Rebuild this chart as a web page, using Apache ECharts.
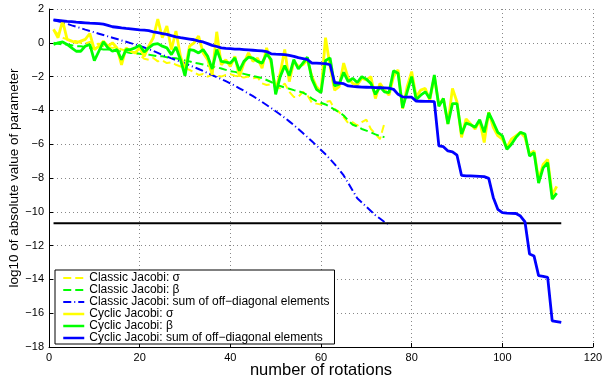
<!DOCTYPE html>
<html>
<head>
<meta charset="utf-8">
<script src="https://cdn.jsdelivr.net/npm/echarts@6/dist/echarts.min.js"></script>
<style>
  html, body { margin: 0; padding: 0; background: #fff; }
  #chart { width: 602px; height: 378px; }
</style>
</head>
<body>
<div id="chart"></div>
<script>
// log10 values per rotation (rotation 1 first)
const classicSigma = [
  0.75, 0.5, 0.3, 0.2, 0.1, 0.1, 0.0, -0.05, 0.05, -0.1,
  -0.05, -0.2, -0.25, -0.3, -0.25, -0.4, -0.45, -0.5, -0.6, -0.7,
  -0.95, -1.0, -0.9, -1.1, -1.05, -1.2, -1.15, -1.3, -1.4, -1.5,
  -1.6, -1.75, -1.9, -1.85, -2.0, -1.9, -1.95, -2.0, -1.9, -1.85,
  -1.95, -2.0, -2.05, -2.0, -2.1, -2.05, -2.4, -2.5, -2.45, -2.6,
  -2.7, -2.4, -2.9, -3.2, -3.2, -2.9, -3.1, -3.55, -3.6, -3.65,
  -3.5, -3.45, -3.9, -4.1, -4.4, -4.75, -4.7, -4.9, -4.7, -4.55,
  -5.1, -5.4, -5.7, -4.75
]
const classicBeta = [
  0.0, -0.05, -0.1, -0.1, -0.15, -0.2, -0.2, -0.25, -0.3, -0.3,
  -0.35, -0.4, -0.4, -0.45, -0.5, -0.5, -0.55, -0.6, -0.6, -0.65,
  -0.7, -0.7, -0.75, -0.8, -0.8, -0.85, -0.9, -0.92, -0.98, -1.05,
  -1.1, -1.18, -1.22, -1.28, -1.35, -1.4, -1.45, -1.52, -1.6, -1.68,
  -1.72, -1.78, -1.84, -1.9, -1.96, -2.02, -2.08, -2.2, -2.32, -2.45,
  -2.56, -2.65, -2.72, -2.8, -2.86, -2.95, -3.1, -3.3, -3.45, -3.55,
  -3.65, -3.8, -3.95, -4.1, -4.3, -4.6, -4.85, -4.95, -5.1, -5.2,
  -5.3, -5.42, -5.52, -5.58
]
const classicOff = [
  1.35, 1.28, 1.2, 1.12, 1.03, 0.95, 0.87, 0.78, 0.7, 0.62,
  0.54, 0.46, 0.38, 0.3, 0.22, 0.14, 0.06, -0.02, -0.1, -0.18,
  -0.28, -0.38, -0.48, -0.6, -0.72, -0.82, -0.92, -1.02, -1.12, -1.22,
  -1.33, -1.44, -1.55, -1.67, -1.79, -1.91, -2.03, -2.15, -2.27, -2.4,
  -2.54, -2.69, -2.84, -3.0, -3.16, -3.33, -3.5, -3.68, -3.86, -4.05,
  -4.24, -4.44, -4.65, -4.87, -5.1, -5.34, -5.58, -5.83, -6.08, -6.34,
  -6.6, -6.88, -7.18, -7.5, -7.85, -8.3, -8.75, -9.2, -9.45, -9.7,
  -9.95, -10.2, -10.4, -10.6, -10.75
]
const cyclicSigma = [
  0.8, 0.3, 1.3, 0.2, 0.1, 0.0, 0.1, 0.2, 0.55, -0.4,
  -0.2, 0.1, -0.2, 0.0, -0.3, -1.3, -0.3, -0.5, -0.6, -0.3,
  -0.8, -0.2, 0.3, 1.4, 0.3, 1.0, -0.4, 0.7, -0.8, -1.6,
  -0.2, 0.0, 0.4, -0.6, -1.0, -1.9, 0.65, -1.3, -1.0, -1.4,
  -0.8, -2.0, -1.2, -0.6, -1.1, -0.9, -1.5, -0.3, -1.2, -2.8,
  -1.8, -0.4, -2.3, -1.1, -1.4, -1.3, -1.0, -2.0, -2.6, -2.9,
  0.3, -1.4, -2.8, -2.6, -1.2, -2.1, -2.4, -2.5, -2.1, -2.2,
  -2.0, -3.3, -2.4, -2.8, -3.1, -2.0, -1.6, -3.9, -2.6, -1.7,
  -3.2, -2.8, -2.7, -3.4, -2.0, -3.7, -3.3, -4.8, -2.7, -3.5,
  -5.6, -4.5, -4.8, -5.1, -4.6, -5.9, -4.1, -5.0, -5.5, -5.7,
  -6.2, -5.7, -5.5, -5.3, -5.6, -6.6, -6.4, -8.1, -7.2, -6.9,
  -9.0, -8.5
]
const cyclicBeta = [
  -0.1, 0.0, 0.05, -0.1, -0.3, -0.5, -0.5, -0.2, -0.1, -1.05,
  -0.5, 0.05, -0.3, -0.5, -0.4, -1.0, -0.4, -0.4, -0.3, -0.15,
  -0.55, -0.3, -0.1, -0.05, -0.2, -0.3, -0.7, -0.25, -1.0, -1.95,
  -0.4, -0.45, -0.6, -0.4, -0.8, -1.55, -0.4, -1.1, -1.15, -1.2,
  -0.9, -1.65, -1.1, -0.85, -0.9, -1.1, -1.2, -0.65, -1.0, -3.05,
  -2.0, -1.35, -1.95, -1.0, -1.55, -1.2, -0.85, -2.15, -2.75, -2.95,
  -1.05, -0.9, -2.55, -2.45, -1.75, -2.3, -2.1, -2.35, -2.0, -2.15,
  -2.4, -3.05, -2.6, -2.9, -2.95, -1.65, -1.8, -3.85, -2.9, -2.0,
  -3.35, -3.1, -2.9, -3.3, -1.9, -3.75, -3.3, -4.8, -3.6, -3.6,
  -5.4, -4.75, -4.85, -5.0, -4.55, -5.3, -4.15, -4.7, -5.3, -5.5,
  -6.3, -6.0, -5.6, -5.3, -5.4, -6.7, -6.5, -8.3, -7.4, -7.1,
  -9.25, -8.9
]
const cyclicOff = [
  1.35, 1.33, 1.3, 1.27, 1.25, 1.22, 1.2, 1.18, 1.16, 1.15,
  1.13, 1.1, 1.03, 0.95, 0.92, 0.88, 0.85, 0.83, 0.8, 0.77,
  0.75, 0.72, 0.65, 0.6, 0.55, 0.5, 0.42, 0.35, 0.3, 0.26,
  0.22, 0.18, 0.1, 0.05, -0.05, -0.15, -0.22, -0.3, -0.33, -0.35,
  -0.37, -0.38, -0.4, -0.42, -0.44, -0.46, -0.48, -0.52, -0.65, -0.67,
  -0.68, -0.7, -0.75, -0.8, -0.88, -0.93, -1.0, -1.2, -1.2, -1.22,
  -1.23, -1.3, -2.35, -2.38, -2.42, -2.55, -2.58, -2.6, -2.62, -2.63,
  -2.64, -2.65, -2.66, -2.67, -2.68, -2.75, -3.05, -3.2, -3.21, -3.22,
  -3.45, -3.46, -3.47, -3.47, -3.48, -6.1, -6.15, -6.4, -6.45, -6.65,
  -7.85, -7.87, -7.88, -7.89, -7.9, -7.92, -8.02, -9.15, -9.85, -10.05,
  -10.08, -10.09, -10.1, -10.25, -10.6, -12.5, -12.62, -13.78, -13.82, -13.88,
  -16.45, -16.5, -16.55
]
// threshold line (rotations 1 to 113)
const thresholdX = [1, 113]
const thresholdY = -10.68

const toPairs = arr => arr.map((v, i) => [i + 1, v])
const minus = v => (v < 0 ? '\u2212' + (-v) : String(v))

const chart = echarts.init(document.getElementById('chart'), null, { renderer: 'canvas' })

const font = 'Liberation Sans, Arial, Helvetica, sans-serif'
const dashed = [8, 4]
const dashDot = [8, 3, 1, 3]

chart.setOption({
  backgroundColor: '#fff',
  animation: false,
  textStyle: { fontFamily: font },
  grid: {
    left: 49,
    right: 9,
    top: 9,
    bottom: 31,
    containLabel: false,
    outerBoundsMode: 'none'
  },
  legend: {
    orient: 'vertical',
    left: 55,
    top: 270,
    itemWidth: 21,
    itemHeight: 12,
    itemGap: 0,
    padding: [2, 5, 0, 7],
    backgroundColor: '#fff',
    borderColor: '#000',
    borderWidth: 1,
    borderRadius: 0,
    itemStyle: { opacity: 0 },
    textStyle: { color: '#000', fontSize: 12, lineHeight: 12, fontFamily: font },
    data: [
      { name: 'Classic Jacobi: σ', lineStyle: { type: dashed, width: 2 } },
      { name: 'Classic Jacobi: β', lineStyle: { type: dashed, width: 2 } },
      { name: 'Classic Jacobi: sum of off\u2212diagonal elements', lineStyle: { type: dashDot, width: 2 } },
      { name: 'Cyclic Jacobi: σ', lineStyle: { type: 'solid', width: 2.5 } },
      { name: 'Cyclic Jacobi: β', lineStyle: { type: 'solid', width: 2.5 } },
      { name: 'Cyclic Jacobi: sum of off\u2212diagonal elements', lineStyle: { type: 'solid', width: 2.5 } }
    ]
  },
  xAxis: {
    type: 'value',
    min: 0,
    max: 120,
    interval: 20,
    name: 'number of rotations',
    nameLocation: 'middle',
    nameGap: 15,
    nameMoveOverlap: false,
    nameTextStyle: { color: '#000', fontSize: 16.5, fontFamily: font },
    axisLine: { onZero: false, lineStyle: { color: '#000', width: 1 } },
    axisTick: { inside: true, length: 4, lineStyle: { color: '#000' } },
    axisLabel: { color: '#000', fontSize: 11, margin: 5 },
    splitLine: { show: true, lineStyle: { color: '#888', type: [1, 3], width: 1 } }
  },
  yAxis: {
    type: 'value',
    min: -18,
    max: 2,
    interval: 2,
    name: 'log10 of absolute value of parameter',
    nameLocation: 'middle',
    nameGap: 28,
    nameMoveOverlap: false,
    nameTextStyle: { color: '#000', fontSize: 13.5, fontFamily: font },
    axisLine: { show: true, onZero: false, lineStyle: { color: '#000', width: 1 } },
    axisTick: { show: true, inside: true, length: 4, lineStyle: { color: '#000' } },
    axisLabel: { color: '#000', fontSize: 11, margin: 5, formatter: minus },
    splitLine: { show: true, lineStyle: { color: '#888', type: [1, 3], width: 1 } }
  },
  series: [{
    name: 'Classic Jacobi: σ',
    type: 'line',
    symbol: 'none',
    color: '#ffff00',
    lineStyle: { width: 2, type: dashed },
    data: toPairs(classicSigma)
  }, {
    name: 'Classic Jacobi: β',
    type: 'line',
    symbol: 'none',
    color: '#00ff00',
    lineStyle: { width: 2, type: dashed },
    data: toPairs(classicBeta)
  }, {
    name: 'Classic Jacobi: sum of off\u2212diagonal elements',
    type: 'line',
    symbol: 'none',
    color: '#0000ff',
    lineStyle: { width: 2, type: dashDot },
    data: toPairs(classicOff)
  }, {
    name: 'threshold',
    type: 'line',
    symbol: 'none',
    color: '#000',
    lineStyle: { width: 2 },
    data: thresholdX.map(x => [x, thresholdY])
  }, {
    name: 'Cyclic Jacobi: σ',
    type: 'line',
    symbol: 'none',
    color: '#ffff00',
    lineStyle: { width: 2.8 },
    data: toPairs(cyclicSigma)
  }, {
    name: 'Cyclic Jacobi: β',
    type: 'line',
    symbol: 'none',
    color: '#00ff00',
    lineStyle: { width: 2.8 },
    data: toPairs(cyclicBeta)
  }, {
    name: 'Cyclic Jacobi: sum of off\u2212diagonal elements',
    type: 'line',
    symbol: 'none',
    color: '#0000ff',
    lineStyle: { width: 2.8 },
    data: toPairs(cyclicOff)
  }]
})
</script>
</body>
</html>
